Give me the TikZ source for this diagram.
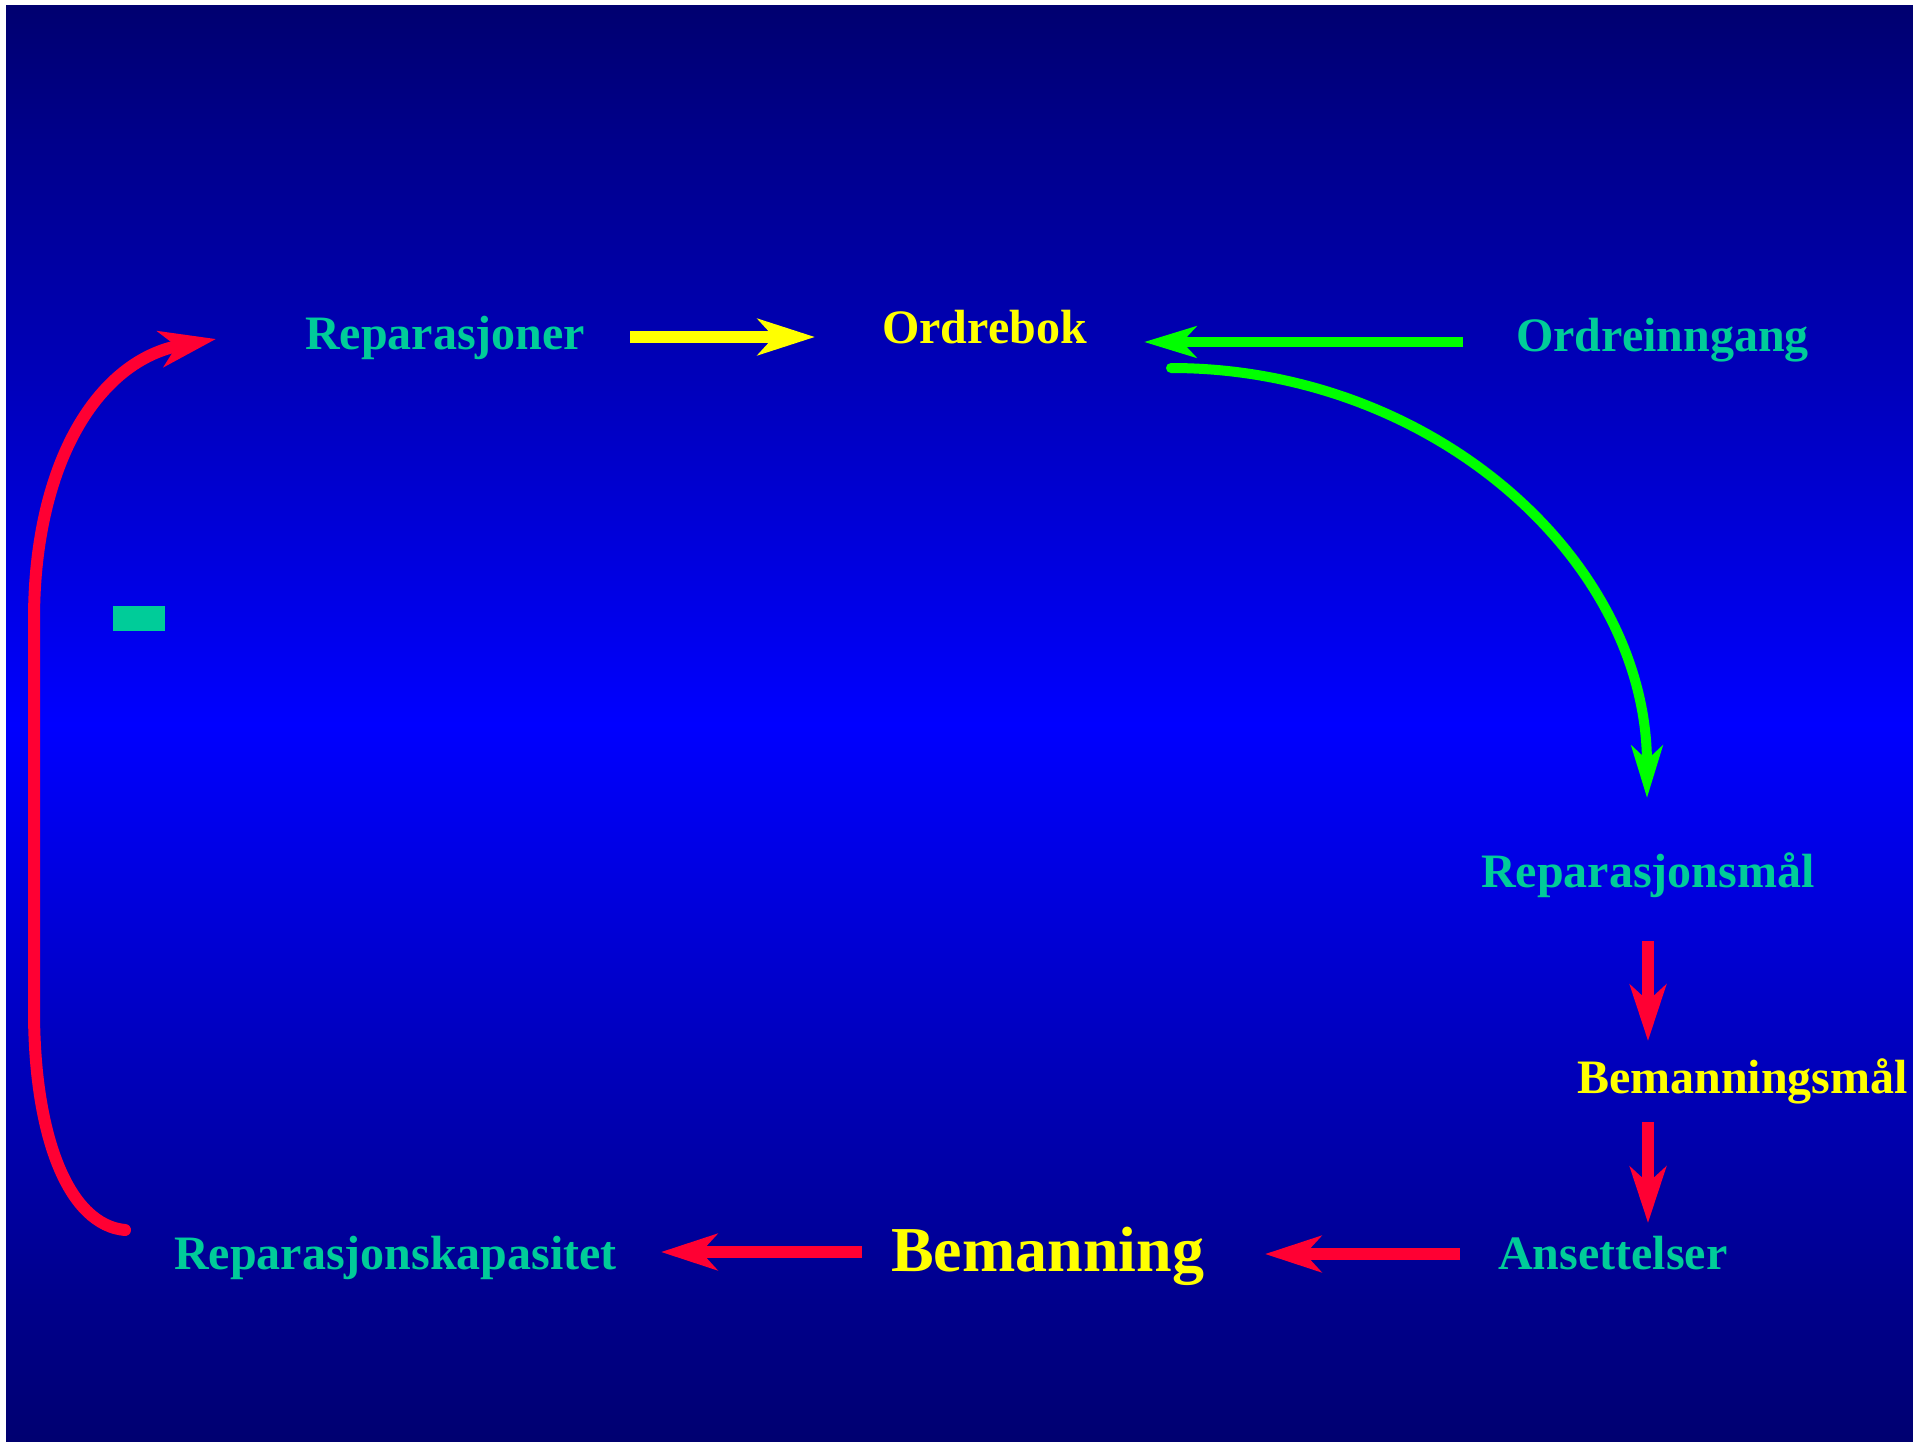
\documentclass[tikz,border=0pt]{standalone}
\usepackage{fontspec}
\setmainfont{Liberation Serif}
\usetikzlibrary{arrows.meta}
\definecolor{navyc}{RGB}{0,0,112}
\definecolor{bluec}{RGB}{0,0,255}
\definecolor{tealc}{RGB}{0,204,153}
\definecolor{yelc}{RGB}{255,255,0}
\definecolor{grnc}{RGB}{0,255,0}
\definecolor{redc}{RGB}{255,0,51}
\tikzset{
  lbl/.style={anchor=base west, inner sep=0pt, font=\bfseries\fontsize{48}{56}\selectfont},
  biglbl/.style={anchor=base west, inner sep=0pt, font=\bfseries\fontsize{64}{74}\selectfont},
  redarrow/.style={draw=redc, line width=12pt, -{Stealth[length=56pt,width=36pt,inset=16pt]}},
  yelarrow/.style={draw=yelc, line width=12pt, -{Stealth[length=57pt,width=36pt,inset=16pt]}},
  grnarrow/.style={draw=grnc, line width=10pt, -{Stealth[length=52pt,width=31pt,inset=14pt]}},
}
\begin{document}
\begin{tikzpicture}[x=1pt,y=-1pt]
\useasboundingbox (0,0) rectangle (1913,1442);
\fill[white] (0,0) rectangle (1913,1442);
\shade[top color=navyc, bottom color=navyc, middle color=bluec] (6,6) rectangle (1913,1442);
% labels
\node[lbl, text=tealc] (rep) at (305,349) {Reparasjoner};
\node[lbl, text=yelc] (ordre) at (882,343) {Ordrebok};
\node[lbl, text=tealc] (inng) at (1516,351) {Ordreinngang};
\node[lbl, text=tealc] (repmal) at (1481,887) {Reparasjonsmål};
\node[lbl, text=yelc] (bemmal) at (1577,1093) {Bemanningsmål};
\node[lbl, text=tealc] (ans) at (1498,1269) {Ansettelser};
\node[biglbl, text=yelc] (bem) at (891,1271) {Bemanning};
\node[lbl, text=tealc] (repkap) at (174,1269) {Reparasjonskapasitet};
% small marker
\fill[tealc] (113,606) rectangle (165,631);
% connector end points
\coordinate (y1) at (630,337);
\coordinate (y2) at (815,337);
\coordinate (g1) at (1463,342);
\coordinate (g2) at (1144,342);
\coordinate (gc1) at (1171,368);
\coordinate (gc2) at (1647,798);
\coordinate (r1a) at (1648,941);
\coordinate (r1b) at (1648,1041);
\coordinate (r2a) at (1648,1122);
\coordinate (r2b) at (1648,1223);
\coordinate (r3a) at (1460,1254);
\coordinate (r3b) at (1265,1254);
\coordinate (r4a) at (862,1252);
\coordinate (r4b) at (661,1252);
\coordinate (l1) at (125,1230);
\coordinate (l2) at (216,339);
% connectors
\draw[yelarrow] (y1) -- (y2);
\draw[grnarrow] (g1) -- (g2);
\draw[grnarrow, line cap=round] (gc1) .. controls (1434,368) and (1647,561) .. (gc2);
\draw[redarrow] (r1a) -- (r1b);
\draw[redarrow] (r2a) -- (r2b);
\draw[redarrow] (r3a) -- (r3b);
\draw[redarrow] (r4a) -- (r4b);
\draw[redarrow, line cap=round] (l1) .. controls (70,1225) and (34,1140) .. (34,1010)
  -- (34,620) .. controls (34,460) and (100,360) .. (l2);
\end{tikzpicture}
\end{document}
